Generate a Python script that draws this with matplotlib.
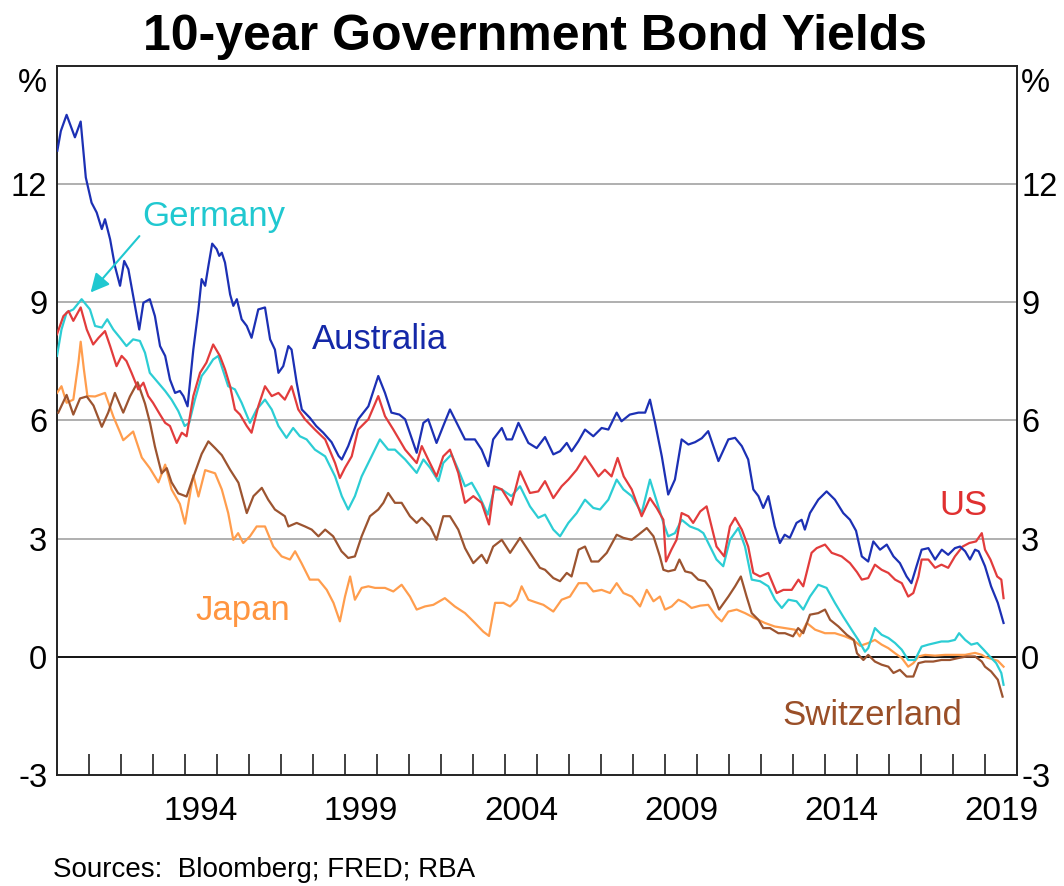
import matplotlib
matplotlib.use("Agg")
import matplotlib.pyplot as plt

plt.rcParams['font.family'] = ['Liberation Sans', 'DejaVu Sans']

# ---------------- data (decimal year, % yield) ----------------
aus_t = [1990.01, 1990.12, 1990.30, 1990.56, 1990.74, 1990.90, 1991.08, 1991.24, 1991.40, 1991.50,
         1991.66, 1991.81, 1991.97, 1992.10, 1992.23, 1992.38, 1992.57, 1992.70, 1992.90, 1993.06,
         1993.22, 1993.38, 1993.53, 1993.69, 1993.84, 1993.95, 1994.08, 1994.26, 1994.42, 1994.52,
         1994.63, 1994.73, 1994.85, 1994.99, 1995.07, 1995.15, 1995.25, 1995.41, 1995.51, 1995.62,
         1995.77, 1995.93, 1996.08, 1996.29, 1996.50, 1996.66, 1996.81, 1996.92, 1997.07, 1997.23,
         1997.33, 1997.49, 1997.65, 1997.90, 1998.10, 1998.32, 1998.58, 1998.80, 1998.90, 1999.10,
         1999.41, 1999.73, 2000.04, 2000.25, 2000.45, 2000.70, 2000.88, 2001.24, 2001.45, 2001.60,
         2001.86, 2002.07, 2002.28, 2002.49, 2002.75, 2003.06, 2003.27, 2003.48, 2003.63, 2003.90,
         2004.05, 2004.22, 2004.42, 2004.73, 2004.99, 2005.25, 2005.51, 2005.72, 2005.93, 2006.08,
         2006.29, 2006.50, 2006.76, 2007.02, 2007.23, 2007.49, 2007.64, 2007.90, 2008.17, 2008.38,
         2008.53, 2008.69, 2008.90, 2009.10, 2009.31, 2009.52, 2009.73, 2009.94, 2010.15, 2010.35,
         2010.67, 2010.98, 2011.19, 2011.40, 2011.60, 2011.76, 2011.92, 2012.07, 2012.23, 2012.43,
         2012.59, 2012.74, 2012.90, 2013.11, 2013.27, 2013.37, 2013.53, 2013.79, 2014.05, 2014.31,
         2014.57, 2014.78, 2014.97, 2015.15, 2015.35, 2015.51, 2015.72, 2015.93, 2016.14, 2016.34,
         2016.55, 2016.70, 2016.86, 2017.02, 2017.23, 2017.44, 2017.65, 2017.85, 2018.06, 2018.22,
         2018.38, 2018.53, 2018.69, 2018.80, 2019.00, 2019.19, 2019.40, 2019.58]
aus_v = [12.85, 13.35, 13.76, 13.19, 13.59, 12.17, 11.53, 11.28, 10.86, 11.11,
         10.60, 9.92, 9.42, 10.05, 9.84, 9.16, 8.31, 8.99, 9.08, 8.65,
         7.89, 7.64, 7.04, 6.70, 6.75, 6.62, 6.36, 7.80, 8.82, 9.59,
         9.42, 9.92, 10.49, 10.35, 10.18, 10.26, 10.01, 9.20, 8.91, 9.08,
         8.57, 8.40, 8.10, 8.82, 8.87, 8.06, 7.80, 7.21, 7.38, 7.89,
         7.80, 6.96, 6.28, 6.07, 5.86, 5.69, 5.45, 5.10, 5.01, 5.35,
         6.03, 6.36, 7.13, 6.70, 6.20, 6.15, 6.03, 5.18, 5.94, 6.03,
         5.43, 5.86, 6.28, 5.94, 5.52, 5.52, 5.26, 4.84, 5.52, 5.81,
         5.52, 5.52, 5.94, 5.43, 5.30, 5.58, 5.14, 5.22, 5.43, 5.22,
         5.47, 5.77, 5.60, 5.81, 5.77, 6.20, 5.98, 6.15, 6.20, 6.20,
         6.53, 5.94, 5.09, 4.12, 4.50, 5.52, 5.39, 5.45, 5.55, 5.73,
         4.97, 5.52, 5.56, 5.35, 5.01, 4.25, 4.08, 3.78, 4.08, 3.31,
         2.89, 3.10, 3.02, 3.40, 3.48, 3.23, 3.65, 3.99, 4.20, 3.99,
         3.65, 3.48, 3.20, 2.55, 2.42, 2.93, 2.72, 2.85, 2.55, 2.38,
         2.04, 1.87, 2.30, 2.72, 2.76, 2.47, 2.72, 2.59, 2.76, 2.80,
         2.68, 2.47, 2.72, 2.68, 2.30, 1.79, 1.37, 0.86]

us_t = [1990.00, 1990.20, 1990.36, 1990.51, 1990.74, 1990.93, 1991.13, 1991.30, 1991.50, 1991.66,
        1991.86, 1992.02, 1992.17, 1992.33, 1992.54, 1992.70, 1992.85, 1993.00, 1993.22, 1993.38,
        1993.53, 1993.74, 1993.90, 1994.05, 1994.26, 1994.47, 1994.67, 1994.88, 1995.09, 1995.25,
        1995.41, 1995.56, 1995.72, 1995.93, 1996.08, 1996.29, 1996.50, 1996.71, 1996.92, 1997.12,
        1997.33, 1997.54, 1997.75, 1998.06, 1998.38, 1998.69, 1998.84, 1999.00, 1999.21, 1999.41,
        1999.73, 2000.04, 2000.25, 2000.51, 2000.88, 2001.24, 2001.40, 2001.60, 2001.86, 2002.07,
        2002.28, 2002.54, 2002.75, 2003.01, 2003.27, 2003.50, 2003.66, 2003.90, 2004.20, 2004.47,
        2004.78, 2005.04, 2005.25, 2005.51, 2005.77, 2005.98, 2006.24, 2006.50, 2006.71, 2006.92,
        2007.12, 2007.33, 2007.52, 2007.71, 2007.96, 2008.27, 2008.53, 2008.74, 2008.95, 2009.03,
        2009.20, 2009.36, 2009.52, 2009.73, 2009.88, 2010.10, 2010.30, 2010.61, 2010.85, 2011.03,
        2011.19, 2011.40, 2011.60, 2011.76, 2011.97, 2012.23, 2012.49, 2012.70, 2012.96, 2013.17,
        2013.32, 2013.58, 2013.74, 2014.00, 2014.21, 2014.52, 2014.78, 2015.00, 2015.15, 2015.35,
        2015.56, 2015.77, 2015.98, 2016.19, 2016.40, 2016.60, 2016.76, 2016.92, 2017.02, 2017.23,
        2017.44, 2017.64, 2017.85, 2018.06, 2018.30, 2018.51, 2018.72, 2018.90, 2019.00, 2019.17,
        2019.38, 2019.51, 2019.58]
us_v = [8.19, 8.65, 8.78, 8.53, 8.87, 8.31, 7.93, 8.10, 8.27, 7.89,
        7.38, 7.64, 7.51, 7.21, 6.79, 6.96, 6.62, 6.45, 6.15, 5.94,
        5.86, 5.43, 5.69, 5.60, 6.62, 7.21, 7.47, 7.93, 7.64, 7.30,
        6.87, 6.28, 6.15, 5.86, 5.69, 6.36, 6.87, 6.62, 6.70, 6.53,
        6.87, 6.28, 6.03, 5.77, 5.52, 4.92, 4.54, 4.80, 5.09, 5.77,
        6.03, 6.62, 6.11, 5.77, 5.26, 4.92, 5.35, 5.01, 4.58, 5.09,
        5.26, 4.67, 3.91, 4.08, 3.91, 3.36, 4.33, 4.25, 3.86, 4.71,
        4.16, 4.20, 4.46, 4.03, 4.33, 4.50, 4.75, 5.09, 4.84, 4.58,
        4.75, 4.58, 5.05, 4.58, 4.25, 3.57, 4.03, 3.78, 3.48, 2.42,
        2.72, 2.97, 3.65, 3.57, 3.40, 3.69, 3.82, 2.80, 2.55, 3.31,
        3.53, 3.23, 2.80, 2.13, 2.04, 2.13, 1.62, 1.70, 1.70, 1.96,
        1.79, 2.64, 2.76, 2.85, 2.64, 2.55, 2.38, 2.15, 1.96, 2.00,
        2.34, 2.21, 2.13, 1.96, 1.87, 1.53, 1.62, 2.04, 2.47, 2.47,
        2.26, 2.34, 2.26, 2.55, 2.80, 2.89, 2.93, 3.14, 2.72, 2.47,
        2.04, 1.96, 1.49]

ger_t = [1990.00, 1990.14, 1990.30, 1990.51, 1990.77, 1991.03, 1991.19, 1991.40, 1991.57, 1991.76,
         1991.97, 1992.17, 1992.38, 1992.59, 1992.75, 1992.90, 1993.12, 1993.38, 1993.58, 1993.79,
         1993.99, 1994.13, 1994.31, 1994.52, 1994.68, 1994.88, 1995.04, 1995.35, 1995.56, 1995.77,
         1996.03, 1996.24, 1996.50, 1996.71, 1996.92, 1997.17, 1997.38, 1997.59, 1997.80, 1998.06,
         1998.38, 1998.69, 1998.90, 1999.10, 1999.31, 1999.52, 1999.83, 2000.09, 2000.35, 2000.56,
         2000.88, 2001.24, 2001.45, 2001.66, 2001.92, 2002.07, 2002.33, 2002.54, 2002.75, 2002.96,
         2003.20, 2003.46, 2003.66, 2003.90, 2004.20, 2004.47, 2004.78, 2005.04, 2005.25, 2005.51,
         2005.72, 2005.98, 2006.24, 2006.50, 2006.76, 2006.97, 2007.23, 2007.49, 2007.70, 2007.96,
         2008.27, 2008.53, 2008.79, 2008.95, 2009.10, 2009.31, 2009.52, 2009.78, 2010.04, 2010.20,
         2010.41, 2010.61, 2010.82, 2011.03, 2011.29, 2011.50, 2011.71, 2011.97, 2012.23, 2012.44,
         2012.65, 2012.86, 2013.11, 2013.32, 2013.53, 2013.79, 2014.05, 2014.31, 2014.57, 2014.83,
         2015.04, 2015.25, 2015.35, 2015.56, 2015.77, 2015.98, 2016.19, 2016.40, 2016.60, 2016.81,
         2017.02, 2017.23, 2017.44, 2017.64, 2017.85, 2018.06, 2018.19, 2018.38, 2018.57, 2018.76,
         2018.96, 2019.15, 2019.35, 2019.51, 2019.58]
ger_v = [7.64, 8.31, 8.74, 8.82, 9.08, 8.82, 8.40, 8.36, 8.57, 8.31,
         8.10, 7.89, 8.06, 8.02, 7.72, 7.21, 7.00, 6.75, 6.53, 6.24,
         5.86, 5.94, 6.53, 7.13, 7.30, 7.55, 7.64, 6.87, 6.79, 6.45,
         5.94, 6.28, 6.53, 6.28, 5.86, 5.56, 5.81, 5.60, 5.52, 5.26,
         5.09, 4.58, 4.08, 3.74, 4.08, 4.58, 5.09, 5.52, 5.26, 5.26,
         5.01, 4.67, 5.01, 4.80, 4.46, 4.92, 5.14, 4.75, 4.33, 4.42,
         4.08, 3.61, 4.25, 4.25, 4.08, 4.33, 3.82, 3.53, 3.61, 3.23,
         3.06, 3.40, 3.65, 3.99, 3.78, 3.74, 3.99, 4.50, 4.25, 4.08,
         3.65, 4.50, 3.82, 3.40, 3.06, 3.14, 3.48, 3.31, 3.23, 3.14,
         2.80, 2.47, 2.30, 2.97, 3.27, 2.80, 1.96, 1.92, 1.79, 1.45,
         1.24, 1.45, 1.41, 1.20, 1.53, 1.83, 1.75, 1.37, 1.02, 0.69,
         0.43, 0.13, 0.22, 0.73, 0.56, 0.48, 0.35, 0.18, -0.08, -0.08,
         0.26, 0.31, 0.35, 0.39, 0.39, 0.43, 0.60, 0.43, 0.31, 0.35,
         0.18, 0.01, -0.16, -0.41, -0.71]

jpn_t = [1990.00, 1990.14, 1990.30, 1990.51, 1990.67, 1990.74, 1990.84, 1990.95, 1991.19, 1991.50,
         1991.76, 1991.97, 1992.07, 1992.38, 1992.65, 1992.90, 1993.17, 1993.38, 1993.58, 1993.84,
         1994.00, 1994.16, 1994.26, 1994.42, 1994.63, 1994.94, 1995.15, 1995.35, 1995.51, 1995.66,
         1995.82, 1996.03, 1996.24, 1996.50, 1996.76, 1997.02, 1997.28, 1997.44, 1997.64, 1997.90,
         1998.17, 1998.43, 1998.64, 1998.84, 1999.00, 1999.16, 1999.31, 1999.52, 1999.73, 1999.94,
         2000.25, 2000.51, 2000.77, 2001.03, 2001.24, 2001.50, 2001.76, 2002.12, 2002.43, 2002.75,
         2003.06, 2003.32, 2003.50, 2003.69, 2003.95, 2004.16, 2004.37, 2004.52, 2004.73, 2004.94,
         2005.20, 2005.51, 2005.77, 2006.03, 2006.30, 2006.55, 2006.76, 2007.02, 2007.28, 2007.49,
         2007.70, 2007.96, 2008.22, 2008.43, 2008.64, 2008.84, 2009.00, 2009.21, 2009.42, 2009.63,
         2009.83, 2010.10, 2010.35, 2010.61, 2010.77, 2010.98, 2011.24, 2011.50, 2011.81, 2012.12,
         2012.43, 2012.74, 2013.06, 2013.21, 2013.43, 2013.69, 2014.00, 2014.31, 2014.62, 2014.88,
         2015.10, 2015.35, 2015.56, 2015.77, 2015.98, 2016.19, 2016.40, 2016.60, 2016.76, 2016.92,
         2017.13, 2017.44, 2017.75, 2018.06, 2018.38, 2018.69, 2018.90, 2019.00, 2019.19, 2019.40,
         2019.58]
jpn_v = [6.70, 6.87, 6.45, 6.53, 7.47, 8.00, 7.30, 6.62, 6.61, 6.70,
         6.10, 5.70, 5.50, 5.72, 5.06, 4.79, 4.43, 4.88, 4.25, 3.88,
         3.38, 4.15, 4.61, 4.07, 4.74, 4.66, 4.25, 3.65, 2.97, 3.14,
         2.89, 3.06, 3.31, 3.31, 2.80, 2.55, 2.47, 2.68, 2.38, 1.96,
         1.96, 1.70, 1.37, 0.90, 1.53, 2.04, 1.45, 1.75, 1.79, 1.75,
         1.75, 1.66, 1.83, 1.53, 1.20, 1.28, 1.32, 1.49, 1.28, 1.11,
         0.86, 0.64, 0.53, 1.37, 1.37, 1.28, 1.45, 1.79, 1.45, 1.39,
         1.32, 1.15, 1.45, 1.53, 1.87, 1.87, 1.66, 1.70, 1.62, 1.87,
         1.62, 1.53, 1.28, 1.70, 1.41, 1.53, 1.20, 1.28, 1.45, 1.37,
         1.24, 1.30, 1.32, 1.02, 0.90, 1.15, 1.20, 1.11, 0.98, 0.86,
         0.77, 0.73, 0.69, 0.52, 0.86, 0.69, 0.60, 0.60, 0.52, 0.43,
         0.28, 0.35, 0.43, 0.31, 0.22, 0.09, -0.03, -0.25, -0.16, 0.01,
         0.05, 0.03, 0.05, 0.05, 0.05, 0.10, 0.05, 0.00, -0.05, -0.10,
         -0.25]

che_t = [1990.04, 1990.30, 1990.51, 1990.72, 1990.93, 1991.14, 1991.40, 1991.60, 1991.81, 1992.07,
         1992.28, 1992.52, 1992.75, 1992.91, 1993.06, 1993.27, 1993.43, 1993.58, 1993.79, 1994.05,
         1994.20, 1994.52, 1994.73, 1994.94, 1995.15, 1995.41, 1995.67, 1995.93, 1996.14, 1996.40,
         1996.60, 1996.81, 1997.12, 1997.23, 1997.49, 1997.75, 1997.96, 1998.17, 1998.38, 1998.63,
         1998.89, 1999.10, 1999.31, 1999.52, 1999.78, 2000.04, 2000.20, 2000.35, 2000.56, 2000.77,
         2001.03, 2001.24, 2001.40, 2001.66, 2001.86, 2002.07, 2002.28, 2002.54, 2002.75, 2003.01,
         2003.27, 2003.43, 2003.63, 2003.90, 2004.16, 2004.47, 2004.78, 2005.09, 2005.25, 2005.51,
         2005.72, 2005.93, 2006.08, 2006.30, 2006.50, 2006.70, 2006.92, 2007.18, 2007.49, 2007.70,
         2007.96, 2008.17, 2008.43, 2008.64, 2008.84, 2008.95, 2009.10, 2009.31, 2009.45, 2009.63,
         2009.83, 2010.04, 2010.25, 2010.46, 2010.69, 2010.98, 2011.19, 2011.37, 2011.55, 2011.71,
         2011.92, 2012.07, 2012.28, 2012.54, 2012.75, 2013.00, 2013.16, 2013.32, 2013.53, 2013.79,
         2014.00, 2014.16, 2014.42, 2014.68, 2014.90, 2015.00, 2015.20, 2015.35, 2015.56, 2015.77,
         2015.98, 2016.14, 2016.34, 2016.55, 2016.76, 2016.92, 2017.13, 2017.38, 2017.64, 2017.90,
         2018.17, 2018.43, 2018.69, 2018.90, 2019.00, 2019.19, 2019.40, 2019.55]
che_v = [6.20, 6.65, 6.15, 6.56, 6.61, 6.38, 5.84, 6.20, 6.70, 6.20,
         6.61, 6.97, 6.43, 5.93, 5.34, 4.66, 4.79, 4.43, 4.15, 4.07,
         4.43, 5.15, 5.47, 5.30, 5.12, 4.75, 4.42, 3.65, 4.08, 4.29,
         3.99, 3.74, 3.57, 3.31, 3.40, 3.31, 3.23, 3.06, 3.23, 3.06,
         2.68, 2.51, 2.55, 3.06, 3.57, 3.74, 3.91, 4.16, 3.91, 3.91,
         3.57, 3.40, 3.53, 3.31, 2.97, 3.57, 3.57, 3.23, 2.76, 2.38,
         2.59, 2.38, 2.80, 2.97, 2.64, 3.02, 2.64, 2.26, 2.21, 2.00,
         1.92, 2.13, 2.04, 2.72, 2.80, 2.42, 2.42, 2.64, 3.10, 3.02,
         2.97, 3.10, 3.27, 3.06, 2.55, 2.21, 2.17, 2.21, 2.47, 2.17,
         2.13, 1.96, 1.92, 1.70, 1.20, 1.53, 1.79, 2.04, 1.53, 1.11,
         0.94, 0.73, 0.73, 0.60, 0.60, 0.52, 0.73, 0.60, 1.07, 1.11,
         1.20, 0.94, 0.77, 0.56, 0.43, 0.09, -0.08, 0.05, -0.12, -0.20,
         -0.25, -0.41, -0.33, -0.50, -0.50, -0.16, -0.12, -0.12, -0.08, -0.08,
         -0.03, 0.01, 0.01, -0.12, -0.25, -0.37, -0.58, -1.01]

series_names = ["Australia", "US", "Germany", "Japan", "Switzerland"]
year_ticks = list(range(1991, 2020))
year_labels = ["1994", "1999", "2004", "2009", "2014", "2019"]
y_ticks = [-3, 0, 3, 6, 9, 12]

# ---------------- styling ----------------
colors = {
    "Australia": "#1c30b4",
    "US": "#e23c3c",
    "Germany": "#2ccdd4",
    "Japan": "#ff9d4d",
    "Switzerland": "#9c5430",
}
label_colors = {
    "Australia": "#1428a8",
    "US": "#e03030",
    "Germany": "#20c8d0",
    "Japan": "#ff9540",
    "Switzerland": "#9a4f28",
}

W, H = 1064, 886
fig = plt.figure(figsize=(W / 100, H / 100), dpi=100)
ax = fig.add_axes([57 / W, 1 - 775 / H, (1017 - 57) / W, (775 - 66) / H])

for yv in [3, 6, 9, 12]:
    ax.axhline(yv, color="#a9a9a9", lw=1.3, zorder=1)
ax.axhline(0, color="black", lw=1.3, zorder=1)

data = {
    "Switzerland": (che_t, che_v),
    "Japan": (jpn_t, jpn_v),
    "Germany": (ger_t, ger_v),
    "US": (us_t, us_v),
    "Australia": (aus_t, aus_v),
}
for name in ["Japan", "Switzerland", "Germany", "US", "Australia"]:
    t, v = data[name]
    ax.plot(t, v, color=colors[name], lw=1.6, zorder=3)

ax.set_xlim(1990, 2020)
ax.set_ylim(-3, 15)

# x ticks: year boundaries (inward), labels mid-year
ax.set_xticks(year_ticks)
ax.set_xticklabels([""] * len(year_ticks))
ax.tick_params(axis="x", which="major", direction="in", length=15, width=1.3, color="#333333")
ax.set_xticks([int(y) + 0.5 for y in year_labels], minor=True)
ax.set_xticklabels(year_labels, minor=True)
ax.tick_params(axis="x", which="minor", length=0, pad=15, labelsize=24)

# left y labels
ax.set_yticks(y_ticks)
ax.set_yticklabels([str(v) for v in y_ticks])
ax.tick_params(axis="y", which="both", length=0, labelsize=23.5, pad=7)

# right y labels via twin axis (smaller pad)
axr = ax.twinx()
axr.set_ylim(-3, 15)
axr.set_yticks(y_ticks)
axr.set_yticklabels([str(v) for v in y_ticks])
axr.tick_params(axis="y", length=0, labelsize=23.5, pad=3)
for s in axr.spines.values():
    s.set_visible(False)

for s in ax.spines.values():
    s.set_linewidth(1.4)
    s.set_color("#222222")

# percent signs
fig.text(47 / W, 1 - 84 / H, "%", ha="right", va="center", fontsize=23.5)
fig.text(1021 / W, 1 - 84 / H, "%", ha="left", va="center", fontsize=23.5)

# title & source
fig.text(0.503, 1 - 50 / H, "10-year Government Bond Yields", ha="center", va="baseline",
         fontsize=36, fontweight="bold")
fig.text(53 / W, 1 - 877 / H, "Sources:  Bloomberg; FRED; RBA", ha="left", va="baseline",
         fontsize=20)

# series labels
ax.text(1997.96, 7.81, "Australia", color=label_colors["Australia"], fontsize=25, ha="left", va="baseline")
ax.text(2017.56, 3.61, "US", color=label_colors["US"], fontsize=25, ha="left", va="baseline")
ax.text(1994.34, 0.94, "Japan", color=label_colors["Japan"], fontsize=25, ha="left", va="baseline")
ax.text(2012.68, -1.73, "Switzerland", color=label_colors["Switzerland"], fontsize=25, ha="left", va="baseline")
ax.annotate("Germany", xy=(1991.05, 9.25), xytext=(1992.65, 10.93),
            color=label_colors["Germany"], fontsize=25, ha="left", va="baseline",
            arrowprops=dict(arrowstyle="-|>", color=label_colors["Germany"], lw=1.5,
                            mutation_scale=28, shrinkA=0, shrinkB=0,
                            relpos=(0.0, 0.0)))

fig.savefig("out.png", dpi=100)
